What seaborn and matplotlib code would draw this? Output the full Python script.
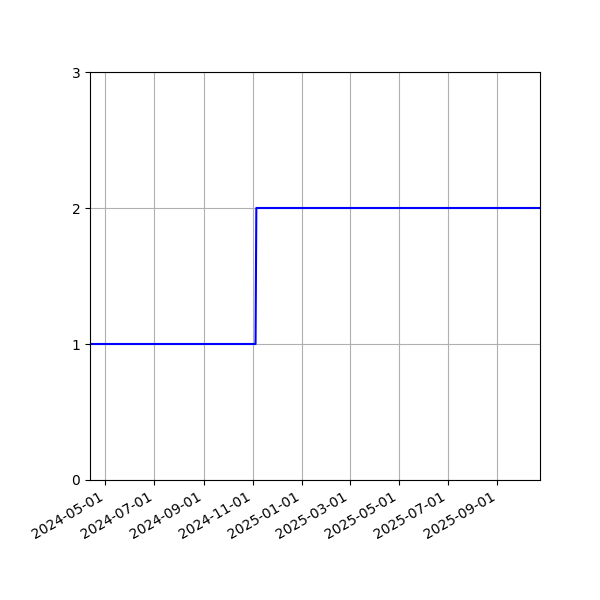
import matplotlib
matplotlib.use("Agg")
import matplotlib.pyplot as plt
import matplotlib.dates as mdates
import seaborn as sns
import pandas as pd

# change points of the series (value held between them)
dates = ["2024-04-12", "2024-11-04", "2024-11-05", "2025-10-24"]
values = [1, 1, 2, 2]
y_ticks = [0, 1, 2, 3]

df = pd.DataFrame({"date": pd.to_datetime(dates), "value": values})

fig, ax = plt.subplots(figsize=(6, 6), dpi=100)
sns.lineplot(data=df, x="date", y="value", ax=ax, color="blue", linewidth=1.5)

ax.set_xlim(df["date"].min(), df["date"].max())
ax.set_ylim(0, 3)
ax.set_yticks(y_ticks)
ax.xaxis.set_major_locator(mdates.MonthLocator(bymonth=[1, 3, 5, 7, 9, 11]))
ax.xaxis.set_major_formatter(mdates.DateFormatter("%Y-%m-%d"))
ax.grid(True, color="#b0b0b0", linewidth=0.8)
ax.set_xlabel("")
ax.set_ylabel("")

fig.autofmt_xdate()
fig.subplots_adjust(left=0.15, right=0.9, top=0.88, bottom=0.2)
fig.savefig("out.png", dpi=100)
